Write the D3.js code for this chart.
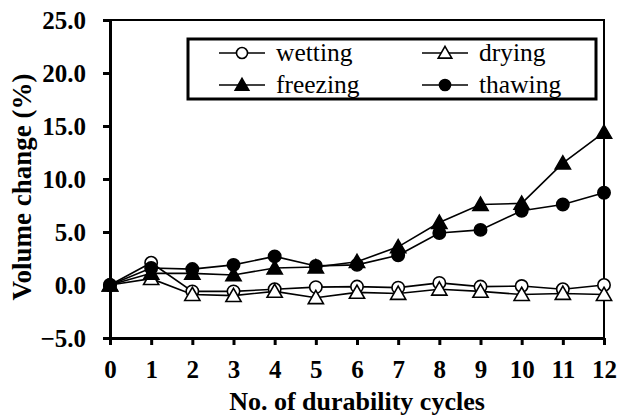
<!DOCTYPE html>
<html><head><meta charset="utf-8">
<script src="https://cdn.jsdelivr.net/npm/d3@7"></script>
</head><body>
<svg id="c" width="619" height="420"></svg>
<script>
const cycles = [0,1,2,3,4,5,6,7,8,9,10,11,12];
const wetting  = [0, 2.1, -0.6, -0.6, -0.4, -0.2, -0.15, -0.25, 0.2, -0.15, -0.1, -0.4, 0.0];
const drying   = [0, 0.6, -0.9, -1.0, -0.6, -1.2, -0.7, -0.8, -0.4, -0.6, -0.9, -0.8, -0.9];
const freezing = [0, 1.1, 1.1, 0.95, 1.6, 1.7, 2.2, 3.6, 5.9, 7.6, 7.7, 11.5, 14.4];
const thawing  = [0, 1.6, 1.5, 1.9, 2.7, 1.8, 1.9, 2.8, 4.9, 5.2, 7.0, 7.6, 8.7];
const yTicks = [-5, 0, 5, 10, 15, 20, 25];
const seriesNames = ["wetting","drying","freezing","thawing"];

d3.select("body").style("margin","0px");
const FF = '"Liberation Serif", "Times New Roman", Tinos, Times, "DejaVu Serif", "Noto Serif"';
const svg = d3.select("#c");
const L=110, R=604, T=20, B=338;
const x = d3.scaleLinear().domain([0,12]).range([L,R]);
const y = d3.scaleLinear().domain([-5,25]).range([B,T]);

function txt(sel, size, bold) {
  return sel.attr("font-family", FF).style("font-family", FF)
    .attr("font-size", size).style("font-size", size + "px")
    .attr("font-weight", bold ? "bold" : "normal").style("font-weight", bold ? "bold" : "normal")
    .attr("fill", "#000");
}

svg.append("path").attr("d",`M${L},${T}H${R}V${B}`).attr("fill","none").attr("stroke","#000").attr("stroke-width",2);

const xa = svg.append("g").attr("transform",`translate(0,${B})`)
  .call(d3.axisBottom(x).tickValues(cycles).tickSize(7).tickSizeOuter(0).tickPadding(15).tickFormat(d3.format("d")));
const ya = svg.append("g").attr("transform",`translate(${L},0)`)
  .call(d3.axisLeft(y).tickValues(yTicks).tickSize(7).tickSizeOuter(0).tickPadding(17).tickFormat(d3.format(".1f")));
[xa,ya].forEach(a=>{
  a.attr("font-family", FF).attr("font-size", 25);
  a.select(".domain").attr("stroke","#000").attr("stroke-width",3);
  a.selectAll(".tick line").attr("stroke","#000").attr("stroke-width",3);
  txt(a.selectAll("text"), 25, true);
});
ya.selectAll("text").attr("dy","0.34em");

txt(svg.append("text").attr("x",357).attr("y",410).attr("text-anchor","middle"), 26, true)
  .text("No. of durability cycles");
txt(svg.append("text").attr("transform","translate(31,187) rotate(-90)").attr("text-anchor","middle"), 27, true)
  .text("Volume change (%)");

const sets = [
  {name:"wetting", vals:wetting, shape:"circle", fill:"#fff"},
  {name:"drying", vals:drying, shape:"triangle", fill:"#fff"},
  {name:"freezing", vals:freezing, shape:"triangle", fill:"#000"},
  {name:"thawing", vals:thawing, shape:"circle", fill:"#000"}
];
const sym = (s,k) => d3.symbol().type(s.shape==="circle"?d3.symbolCircle:d3.symbolTriangle).size((s.shape==="circle"?120:100)*k)();
const line = d3.line().x((d,i)=>x(cycles[i])).y(d=>y(d));
sets.forEach(s=>{
  svg.append("path").attr("d",line(s.vals)).attr("fill","none").attr("stroke","#000").attr("stroke-width",1.6);
});
sets.forEach(s=>{
  svg.append("g").selectAll("path").data(s.vals).join("path")
    .attr("d",sym(s,1)).attr("transform",(d,i)=>`translate(${x(cycles[i])},${y(d)+(s.shape==="triangle"?1.5:0)})`)
    .attr("fill",s.fill).attr("stroke","#000").attr("stroke-width",1.6);
});

svg.append("rect").attr("x",188).attr("y",39).attr("width",408).attr("height",60)
  .attr("fill","#fff").attr("stroke","#000").attr("stroke-width",3);
const lpos = [[219,53],[422,53],[219,85],[422,85]];
sets.forEach((s,i)=>{
  const [lx,ly] = lpos[i];
  svg.append("line").attr("x1",lx).attr("x2",lx+46).attr("y1",ly).attr("y2",ly).attr("stroke","#000").attr("stroke-width",1.6);
  svg.append("path").attr("d",sym(s,0.8)).attr("transform",`translate(${lx+23},${ly+(s.shape==="triangle"?1.2:0)})`)
    .attr("fill",s.fill).attr("stroke","#000").attr("stroke-width",1.6);
  txt(svg.append("text").attr("x",lx+57).attr("y",ly).attr("dy","0.3em"), 25.5, false)
    .text(seriesNames[i]);
});
</script>
</body></html>
